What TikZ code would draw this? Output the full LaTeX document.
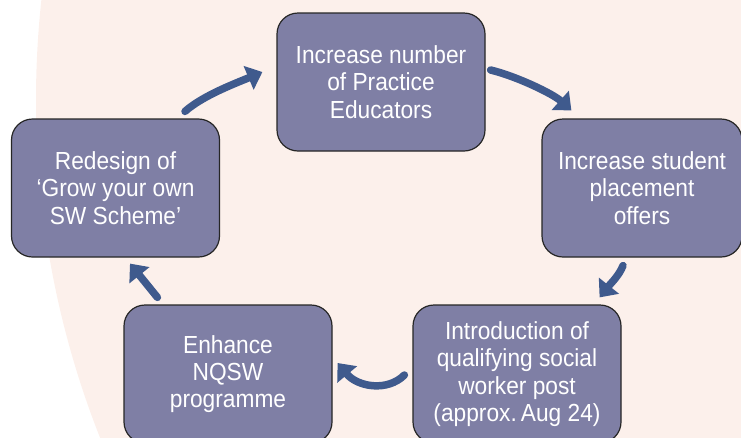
\documentclass[tikz,border=0pt]{standalone}
\usepackage{fontspec}
\setmainfont[FakeStretch=0.92]{Liberation Sans}
\usetikzlibrary{arrows.meta}
\definecolor{boxfill}{HTML}{7F7FA5}
\definecolor{arrowblue}{HTML}{3F5A8D}
\definecolor{blush}{HTML}{FCF0EB}
\frenchspacing

\begin{document}
\begin{tikzpicture}[x=1pt, y=-1pt,
  stage/.style={draw=black!85, line width=1.2pt, fill=boxfill,
    rounded corners=21pt, minimum width=208pt, minimum height=138pt,
    text=white, align=center, inner sep=0pt,
    font=\fontsize{24.7}{27.3}\selectfont},
  flow/.style={draw=arrowblue, line width=7.5pt, line cap=round,
    -{Triangle[width=25pt,length=15pt]}}]
\useasboundingbox (0,0) rectangle (741,437);
\clip (0,0) rectangle (741,437);

% pale background disc
\fill[blush] (955,100) circle (919);

% stages of the cycle
\node[stage] (T)  at (381,82)    {Increase number\\of Practice\\Educators};
\node[stage, minimum width=200pt] (R) at (642,188) {Increase student\\placement\\offers};
\node[stage] (L)  at (115.5,188) {Redesign of\\‘Grow your own\\SW Scheme’};
\node[stage] (BR) at (517,374)   {Introduction of\\qualifying social\\worker post\\(approx.\,Aug 24)};
\node[stage] (BL) at (228,374)   {Enhance\\NQSW\\programme};

% curved arrows between stages
\draw[flow] ([shift={(69.5,-7)}]L.north) .. controls +(18,-16) and +(-26,11) .. ([shift={(-14,-10)}]T.west);
\draw[flow] ([shift={(5,-12)}]T.east) .. controls +(25,6) and +(-19,-17) .. ([shift={(30,-8)}]R.north west);
\draw[flow] ([shift={(-19,8)}]R.south) .. controls +(-4,10) and +(12,-15) .. ([shift={(-22,-7)}]BR.north east);
\draw[flow] ([shift={(-8,1)}]BR.west) .. controls +(-17,17) and +(20,24) .. ([shift={(5,-11)}]BL.east);
\draw[flow] ([shift={(34,-7)}]BL.north west) -- ([shift={(14.5,6)}]L.south);
\end{tikzpicture}
\end{document}
